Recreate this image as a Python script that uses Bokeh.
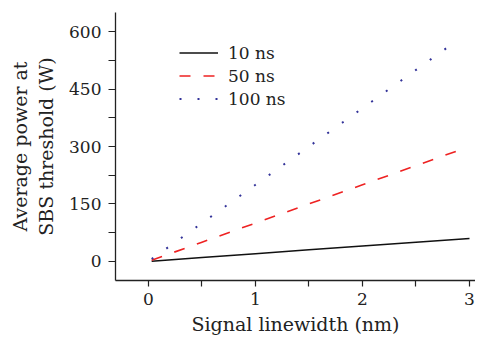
from bokeh.plotting import figure
from bokeh.models import FixedTicker, Legend, LegendItem, Range1d
from bokeh.embed import file_html
from bokeh.resources import INLINE

# Data
x_10ns = [0.03, 0.5, 1.0, 1.5, 2.0, 2.5, 3.0]
y_10ns = [0.6, 10, 20, 30, 40, 50, 60]
x_50ns = [0.03, 0.5, 1.0, 1.5, 2.0, 2.5, 2.93]
y_50ns = [3, 50, 100, 150, 200, 250, 293]
x_100ns = [0.03, 0.5, 1.0, 1.5, 2.0, 2.5, 2.9]
y_100ns = [6, 100, 200, 300, 400, 500, 580]

x_ticks = [0, 1, 2, 3]
x_minor = [0.5, 1.5, 2.5]
y_ticks = [0, 150, 300, 450, 600]
y_minor = [75, 225, 375, 525]

FONT = "DejaVu Serif"
FS = "17px"
FS_LABEL = "19px"

p = figure(width=475, height=338, output_backend="svg", toolbar_location=None,
           x_range=Range1d(-0.308, 3.056), y_range=Range1d(-50, 650),
           min_border_left=115, min_border_top=12, min_border_right=0,
           min_border_bottom=58)
p.outline_line_color = None
p.xgrid.visible = False
p.ygrid.visible = False
p.background_fill_color = "white"

r10 = p.line(x_10ns, y_10ns, line_color="#111111", line_width=1.5)
r50 = p.line(x_50ns, y_50ns, line_color="#ee2222", line_width=1.6, line_dash="11 13")
r100 = p.line(x_100ns, y_100ns, line_color="#333399", line_width=2, line_dash="2 16")

for ax in (p.xaxis[0], p.yaxis[0]):
    ax.axis_line_color = "#222222"
    ax.axis_line_width = 1.3
    ax.major_tick_line_color = "#222222"
    ax.minor_tick_line_color = "#222222"
    ax.major_tick_line_width = 1.2
    ax.minor_tick_line_width = 1.2
    ax.major_tick_in = 0
    ax.minor_tick_in = 0
    ax.major_label_text_font = FONT
    ax.major_label_text_font_size = FS
    ax.major_label_text_color = "#222222"
    ax.axis_label_text_font = FONT
    ax.axis_label_text_font_size = FS_LABEL
    ax.axis_label_text_font_style = "normal"
    ax.axis_label_text_color = "#222222"

p.xaxis.ticker = FixedTicker(ticks=x_ticks, minor_ticks=x_minor)
p.yaxis.ticker = FixedTicker(ticks=y_ticks, minor_ticks=y_minor)
p.xaxis.major_tick_out = 6
p.xaxis.minor_tick_out = 6
p.yaxis.major_tick_out = 7
p.yaxis.minor_tick_out = 7
p.xaxis.major_label_standoff = 6
p.yaxis.major_label_standoff = 7
p.xaxis.axis_label = "Signal linewidth (nm)"
p.yaxis.axis_label = "Average power at\nSBS threshold (W)"
p.xaxis.axis_label_standoff = 5
p.yaxis.axis_label_standoff = 9

legend = Legend(items=[
    LegendItem(label="10 ns", renderers=[r10]),
    LegendItem(label="50 ns", renderers=[r50]),
    LegendItem(label="100 ns", renderers=[r100]),
], location=(64, 171), padding=0, spacing=2, margin=0,
    glyph_width=39, glyph_height=21, label_height=21, label_standoff=10,
    label_text_font=FONT, label_text_font_size=FS, label_text_color="#222222",
    border_line_alpha=0, background_fill_alpha=0)
p.add_layout(legend, "center")

open("out.html", "w").write(file_html(p, INLINE))
